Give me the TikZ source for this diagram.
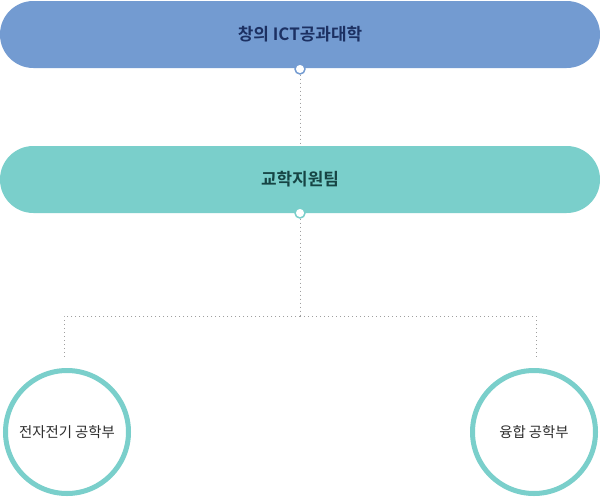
\documentclass[tikz,border=0pt]{standalone}
\usepackage{fontspec}
\setmainfont{Noto Sans CJK KR}
\newfontfamily\krbold{Noto Sans CJK KR Bold}
\definecolor{barblue}{RGB}{115,155,209}
\definecolor{barteal}{RGB}{122,207,203}
\definecolor{textblue}{RGB}{28,48,98}
\definecolor{textteal}{RGB}{22,68,68}
\definecolor{textgray}{RGB}{45,45,45}
\begin{document}
\begin{tikzpicture}[x=0.75pt,y=-0.75pt]
% Styles
\tikzstyle{org_bar} = [rectangle, rounded corners=25pt, minimum width=450pt, minimum height=50.25pt, text centered, font=\krbold\fontsize{12.7}{14}\selectfont]
\tikzstyle{org_dot} = [circle, fill=white, line width=1.1pt, minimum size=7.5pt, inner sep=0pt]
\tikzstyle{dept_circle} = [circle, draw=barteal, fill=white, line width=3.75pt, minimum size=92.25pt, inner sep=0pt, text=textgray, font=\fontsize{10.8}{12}\selectfont]
\tikzstyle{link} = [gray!75, line width=0.75pt, dash pattern=on 0.75pt off 2.25pt]

\fill[white] (0,0) rectangle (600,500);

% College and team bars
\node[org_bar, fill=barblue, text=textblue] (college) at (300,34.5) {창의 ICT공과대학};
\node[org_bar, fill=barteal, text=textteal] (team) at (300,179.5) {교학지원팀};

% Departments
\node[dept_circle] (dept1) at (67,432) {전자전기 공학부};
\node[dept_circle] (dept2) at (534,432) {융합 공학부};

% Connector points
\node[org_dot, draw=barblue] (dot1) at (300,69) {};
\node[org_dot, draw=barteal] (dot2) at (300,213) {};
\coordinate (split) at (300,316);
\coordinate (left_end) at (64,358);
\coordinate (right_end) at (536,358);

% Dotted connectors
\draw[link] (dot1) -- (team);
\draw[link] (dot2) -- (split);
\draw[link] (split) -| (left_end);
\draw[link] (split) -| (right_end);
\end{tikzpicture}
\end{document}
